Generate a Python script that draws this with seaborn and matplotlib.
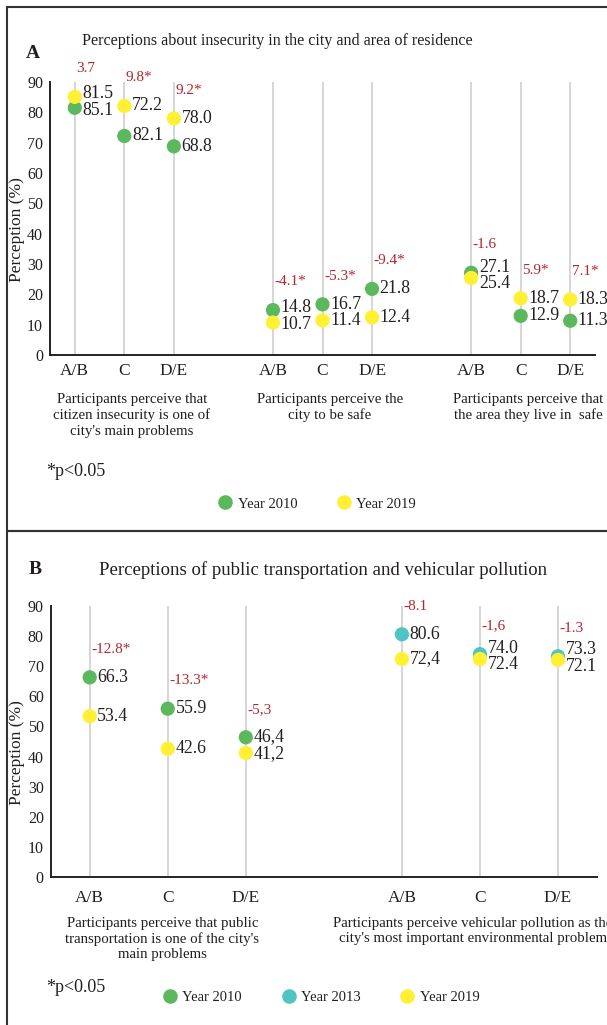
import pandas as pd
import seaborn as sns
import matplotlib.pyplot as plt
from matplotlib.lines import Line2D

classes = ["A/B", "C", "D/E"]

# panel A: insecurity
a_title = "Perceptions about insecurity in the city and area of residence"
a_groups = ["Participants perceive that\ncitizen insecurity is one of\ncity's main problems",
            "Participants perceive the\ncity to be safe",
            "Participants perceive that\nthe area they live in  safe"]
a_2010 = [81.5, 72.2, 68.8, 14.8, 16.7, 21.8, 27.1, 12.9, 11.3]
a_2019 = [85.1, 82.1, 78.0, 10.7, 11.4, 12.4, 25.4, 18.7, 18.3]
# value labels as printed in the source figure
a_2010_txt = ["85.1", "82.1", "68.8", "14.8", "16.7", "21.8", "27.1", "12.9", "11.3"]
a_2019_txt = ["81.5", "72.2", "78.0", "10.7", "11.4", "12.4", "25.4", "18.7", "18.3"]
a_diff = ["3.7", "9.8*", "9.2*", "-4.1*", "-5.3*", "-9.4*", "-1.6", "5.9*", "7.1*"]

# panel B: transport / pollution
b_title = "Perceptions of public transportation and vehicular pollution"
b_groups = ["Participants perceive that public\ntransportation is one of the city's\nmain problems",
            "Participants perceive vehicular pollution as the\ncity's most important environmental problem"]
b_2010 = [66.3, 55.9, 46.4]
b_2013 = [80.6, 74.0, 73.3]
b_2019 = [53.4, 42.6, 41.2, 72.4, 72.4, 72.1]
b_2010_txt = ["66.3", "55.9", "46,4"]
b_2013_txt = ["80.6", "74.0", "73.3"]
b_2019_txt = ["53.4", "42.6", "41,2", "72,4", "72.4", "72.1"]
b_diff = ["-12.8*", "-13.3*", "-5,3", "-8.1", "-1,6", "-1.3"]

colors = {"Year 2010": "#5cb85c", "Year 2013": "#4fc4c4", "Year 2019": "#fff033"}
RED = "#b3262c"
TXT = "#231f20"

sns.set_style("white")
plt.rcParams["font.family"] = ["Liberation Serif", "DejaVu Serif"]
plt.rcParams["text.color"] = TXT
plt.rcParams["axes.labelcolor"] = TXT
plt.rcParams["xtick.color"] = TXT
plt.rcParams["ytick.color"] = TXT


def positions(n_groups):
    return [g * 4 + i for g in range(n_groups) for i in range(3)]


def long_frame(series):
    rows = []
    for year, pos, vals, txts in series:
        for p, v, t in zip(pos, vals, txts):
            rows.append({"pos": p, "value": v, "year": year, "label": t})
    return pd.DataFrame(rows)


def style_axis(ax, n_groups, tick_pad):
    pos = positions(n_groups)
    ax.set_xlim(-0.5, pos[-1] + 0.5)
    ax.set_ylim(0, 90)
    ax.set_yticks(range(0, 91, 10))
    ax.set_xticks(pos)
    ax.set_xticklabels(classes * n_groups)
    ax.grid(axis="x", color="#d6d6d6", lw=1.4)
    ax.grid(axis="y", visible=False)
    ax.set_axisbelow(True)
    sns.despine(ax=ax)
    for s in ["left", "bottom"]:
        ax.spines[s].set_color("#222222")
        ax.spines[s].set_linewidth(1.4)
    ax.tick_params(axis="x", length=0, pad=tick_pad, labelsize=12.5)
    ax.tick_params(axis="y", length=0, pad=5, labelsize=11.5)
    ax.set_xlabel("")
    ax.set_ylabel("Perception (%)", fontsize=12.5)


def draw_panel(ax, df, diffs):
    sns.scatterplot(data=df, x="pos", y="value", hue="year", palette=colors,
                    s=105, edgecolor="none", linewidth=0, legend=False,
                    zorder=3, ax=ax)
    for i, (p, grp) in enumerate(df.groupby("pos")):
        grp = grp.sort_values("value")
        lo, hi = grp.iloc[0], grp.iloc[-1]
        lo_y, hi_y = lo["value"], hi["value"]
        if hi_y - lo_y < 5.5:
            mid = (hi_y + lo_y) / 2
            lo_y, hi_y = mid - 2.75, mid + 2.75
        for row, y in [(lo, lo_y), (hi, hi_y)]:
            ax.annotate(row["label"], (p, y), xytext=(5.5, 0), textcoords="offset points",
                        ha="left", va="center", fontsize=12.8, annotation_clip=False)
        ax.annotate(diffs[i], (p, hi["value"] + 9.3), xytext=(1, 0), textcoords="offset points",
                    ha="left", va="center", fontsize=11, color=RED, annotation_clip=False)


fig = plt.figure(figsize=(6.07, 10.25), dpi=100)
W, H = 607, 1025

# panel frames
fig.add_artist(plt.Rectangle((7 / W, 1 - 531 / H), 1, 524 / H, transform=fig.transFigure,
                             fill=False, ec="#333333", lw=1.5))
fig.add_artist(plt.Rectangle((7 / W, -0.05), 1, 1 - 531 / H + 0.05, transform=fig.transFigure,
                             fill=False, ec="#333333", lw=1.5))

# ---- panel A
axA = fig.add_axes([50 / W, 1 - 355 / H, 545 / W, 273 / H])
posA = positions(3)
dfA = long_frame([("Year 2010", posA, a_2010, a_2010_txt),
                  ("Year 2019", posA, a_2019, a_2019_txt)])
draw_panel(axA, dfA, a_diff)
style_axis(axA, 3, 6)
axA.yaxis.set_label_coords(-0.045, 0.46)
for g, txt in enumerate(a_groups):
    axA.text(g * 4 + 1.15, -0.14, txt, transform=axA.get_xaxis_transform(),
             ha="center", va="top", fontsize=10.7, linespacing=1.22)

fig.text(277 / W, 1 - 41 / H, a_title, ha="center", va="center", fontsize=11.6)
fig.text(26 / W, 1 - 54 / H, "A", ha="left", va="center", fontsize=14, fontweight="bold")
fig.text(46 / W, 1 - 472 / H, "*p<0.05", ha="left", va="center", fontsize=13)

handlesA = [Line2D([], [], ls="", marker="o", ms=10.5, mec="none", mfc=colors[k])
            for k in ["Year 2010", "Year 2019"]]
fig.legend(handlesA, ["Year 2010", "Year 2019"], loc="center", ncol=2,
           bbox_to_anchor=(317 / W, 1 - 504 / H), frameon=False, fontsize=10.5,
           handlelength=1.0, handletextpad=0.35, columnspacing=2.7, borderpad=0)

# ---- panel B
axB = fig.add_axes([50.7 / W, 1 - 877 / H, 546.3 / W, 271 / H])
posB = positions(2)
dfB = long_frame([("Year 2010", posB[:3], b_2010, b_2010_txt),
                  ("Year 2013", posB[3:], b_2013, b_2013_txt),
                  ("Year 2019", posB, b_2019, b_2019_txt)])
draw_panel(axB, dfB, b_diff)
style_axis(axB, 2, 9)
axB.yaxis.set_label_coords(-0.047, 0.46)
for g, txt in enumerate(b_groups):
    axB.text(g * 4 + 0.93 - 0.02 * g, -0.148, txt, transform=axB.get_xaxis_transform(),
             ha="center", va="top", fontsize=10.7, linespacing=1.22)

fig.text(323 / W, 1 - 570 / H, b_title, ha="center", va="center", fontsize=13.5)
fig.text(29 / W, 1 - 570 / H, "B", ha="left", va="center", fontsize=14, fontweight="bold")
fig.text(46 / W, 1 - 987 / H, "*p<0.05", ha="left", va="center", fontsize=13)

handlesB = [Line2D([], [], ls="", marker="o", ms=10.5, mec="none", mfc=colors[k])
            for k in ["Year 2010", "Year 2013", "Year 2019"]]
fig.legend(handlesB, ["Year 2010", "Year 2013", "Year 2019"], loc="center", ncol=3,
           bbox_to_anchor=(321 / W, 1 - 997 / H), frameon=False, fontsize=10.5,
           handlelength=1.0, handletextpad=0.35, columnspacing=2.7, borderpad=0)

fig.savefig("out.png", dpi=100)
